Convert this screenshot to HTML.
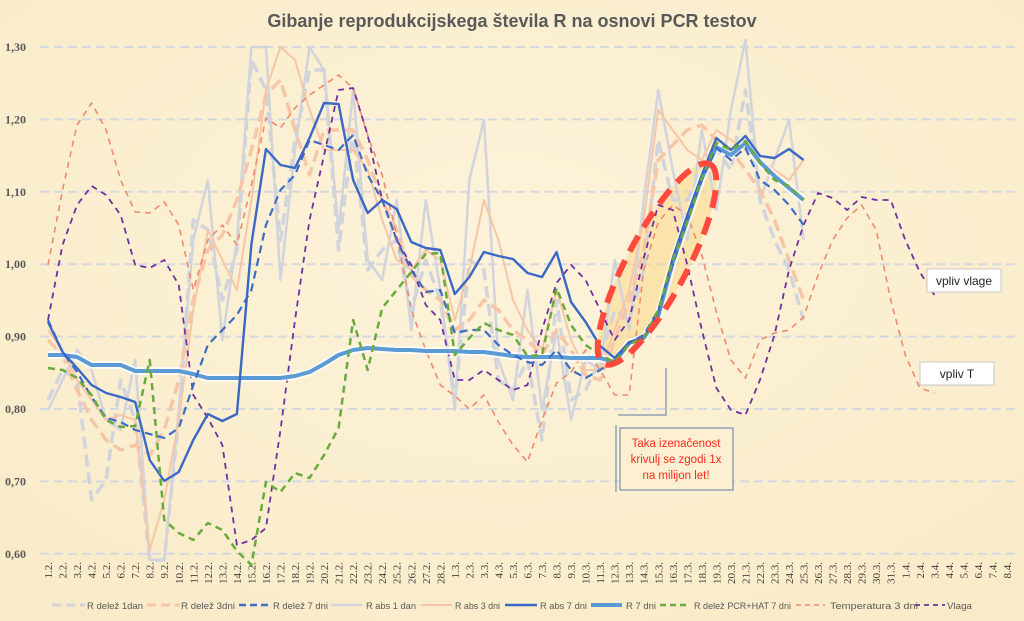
<!DOCTYPE html>
<html><head><meta charset="utf-8">
<style>
html,body{margin:0;padding:0;}
body{width:1024px;height:621px;overflow:hidden;background:#fcefd2;font-family:"Liberation Sans",sans-serif;}
svg{display:block;}
</style></head>
<body>
<svg id="c" width="1024" height="621" xmlns="http://www.w3.org/2000/svg">
<defs>
<radialGradient id="bg" cx="50%" cy="40%" r="75%">
<stop offset="0" stop-color="#fdf3da"/><stop offset="1" stop-color="#f9ebc8"/>
</radialGradient>
</defs>
<rect width="1024" height="621" fill="url(#bg)"/>
<text x="512" y="27" text-anchor="middle" font-family="Liberation Sans, sans-serif" font-weight="bold" font-size="18" fill="#595959">Gibanje reprodukcijskega števila R na osnovi PCR testov</text>
<g id="grid"></g>
<g id="ylab" font-family="Liberation Serif, serif" font-weight="bold" font-size="12" fill="#595959"></g>
<g id="xlab" font-family="Liberation Serif, serif" font-size="11" fill="#404040"></g>
<ellipse cx="657" cy="264" rx="113" ry="30" transform="rotate(-62 657 264)" fill="#f9d98a" fill-opacity="0.55"/>
<g id="series"></g>
<ellipse cx="657" cy="264" rx="113" ry="30" transform="rotate(-62 657 264)" fill="none" stroke="#ff4b3e" stroke-width="6" stroke-dasharray="18 10"/>
<polyline points="618,415 666,415 666,368" fill="none" stroke="#5a7ea8" stroke-width="1"/>
<line x1="616" y1="425" x2="616" y2="492" stroke="#5a7ea8" stroke-width="1"/>
<rect x="620" y="428" width="113" height="62" fill="#fcefd2" stroke="#5a7ea8" stroke-width="1"/>
<text x="676" y="447" text-anchor="middle" font-size="11.5" fill="#ff2a1a" font-family="Liberation Sans, sans-serif">Taka izenačenost</text>
<text x="676" y="463" text-anchor="middle" font-size="11.5" fill="#ff2a1a" font-family="Liberation Sans, sans-serif">krivulj se zgodi 1x</text>
<text x="676" y="479" text-anchor="middle" font-size="11.5" fill="#ff2a1a" font-family="Liberation Sans, sans-serif">na milijon let!</text>
<rect x="927" y="269" width="74" height="23" fill="#fff" stroke="#c8c8c8"/>
<text x="964" y="285" text-anchor="middle" font-size="12" fill="#222">vpliv vlage</text>
<rect x="920" y="362" width="74" height="23" fill="#fff" stroke="#c8c8c8"/>
<text x="957" y="378" text-anchor="middle" font-size="12" fill="#222">vpliv T</text>
<g id="legend" font-family="Liberation Sans, sans-serif" font-size="9.5" fill="#595959"></g>
</svg>
<script>
const NS="http://www.w3.org/2000/svg";
function el(p,t,a,txt){const e=document.createElementNS(NS,t);for(const k in a)e.setAttribute(k,a[k]);if(txt!==undefined)e.textContent=txt;document.getElementById(p).appendChild(e);return e;}
const X0=48,DX=14.53;
const Y=v=>47+(1.30-v)/0.1*72.4;
for(let i=0;i<8;i++){const v=1.3-i*0.1;const y=Y(v);
el('grid','line',{x1:40,x2:1020,y1:y,y2:y,stroke:'#d6d8e0','stroke-width':2,'stroke-dasharray':'9 5'});
el('ylab','text',{x:5,y:y+4},v.toFixed(2).replace('.',','));}
const labs=[];for(let d=1;d<=28;d++)labs.push(d+'.2.');for(let d=1;d<=31;d++)labs.push(d+'.3.');for(let d=1;d<=8;d++)labs.push(d+'.4.');
labs.forEach((l,i)=>{const x=X0+i*DX+4;el('xlab','text',{x:x,y:562,transform:`rotate(-90 ${x} 562)`,'text-anchor':'end'},l);});
function line(ys,color,w,dash,extra){const pts=ys.map((y,i)=>(y==null?null:(X0+i*DX)+','+y)).filter(p=>p).join(' ');
const a={points:pts,fill:'none',stroke:color,'stroke-width':w,'stroke-linejoin':'round'};if(dash)a['stroke-dasharray']=dash;Object.assign(a,extra||{});el('series','polyline',a);}
const rabs1=[410,380,350,370,420,430,360,560,560,410,240,180,340,240,47,47,280,150,47,70,230,90,260,280,200,330,200,290,410,180,120,360,400,290,410,330,420,360,370,260,330,200,90,170,240,130,210,110,40,200,160,120,240];
const rdel1=[400,370,380,500,480,380,420,560,560,420,220,230,300,250,60,90,240,140,70,70,250,130,270,250,240,310,260,300,400,260,270,380,390,360,440,300,400,390,360,310,320,270,140,200,200,170,150,170,90,200,240,270,320];
const rabs3=[330,350,380,400,420,415,420,550,500,420,310,230,260,290,200,90,47,60,110,150,150,150,170,220,260,270,250,260,320,270,200,240,300,330,350,290,340,370,370,330,290,220,110,130,150,160,130,140,150,160,170,180,160];
const rdel3=[340,355,390,420,440,450,445,455,430,380,300,250,235,200,150,95,80,130,175,130,130,130,160,200,230,275,290,300,330,320,300,310,330,340,355,330,350,375,380,340,300,250,160,145,130,125,140,150,170,190,220,260,300];
const rdel7=[320,352,372,397,418,422,430,434,438,428,385,345,330,315,290,225,190,175,140,145,150,135,175,200,240,270,292,290,333,330,330,345,355,362,365,350,370,378,370,360,343,335,310,265,220,180,148,160,148,180,190,205,225];
const rabs7=[322,352,368,385,393,397,402,460,481,472,440,414,421,414,244,149,165,168,138,103,104,180,213,200,209,242,248,250,294,277,252,256,259,273,277,252,302,322,346,358,342,338,312,258,215,175,138,150,136,156,158,149,160];
const r7=[355,355,357,365,365,365,371,371,371,371,374,378,378,378,378,378,378,376,372,364,355,350,348,349,350,350,351,351,351,352,352,354,356,357,357,357,358,358,358,362,343,338,316,262,220,178,147,155,143,162,176,188,200];
const green=[368,370,378,395,420,427,426,360,520,533,540,523,530,551,565,482,492,473,478,455,428,320,370,308,290,272,254,253,355,338,323,330,335,356,355,288,325,345,355,362,344,338,310,260,222,178,143,150,141,163,180,186,200];
const temp=[265,190,125,103,130,180,212,213,202,225,290,240,225,245,185,118,128,108,95,85,75,88,135,175,235,310,350,385,396,409,395,422,445,462,420,383,372,350,370,395,395,270,222,205,215,255,312,360,378,340,333,330,317,275,240,218,205,230,300,355,388,393];
const vlaga=[320,245,205,186,195,215,265,268,260,285,395,418,445,545,540,528,430,320,220,155,90,88,135,200,240,265,305,320,380,380,370,380,390,385,330,283,265,280,310,340,320,258,205,210,265,330,388,410,415,380,335,270,225,193,198,210,197,200,200,240,272,295];
line(rabs1,'#d2d4dc',2.5);
line(rdel1,'#d2d4dc',3.5,'12 6');
line(rabs3,'#f7c6a6',2);
line(rdel3,'#f7c6a6',3.5,'12 6');
line(temp,'#f08a6e',1.6,'6 5');
line(vlaga,'#7030a0',1.8,'6 5');
line(r7,'#ffffff',8,null,{'stroke-opacity':0.7});
line(r7,'#5b9bd5',4);
line(rdel7,'#3d6cc6',2.2,'8 5');
line(rabs7,'#3a68c4',2.4);
line(green,'#6aaa3c',2.5,'7 5');
// legend: [label,color,width,dash,lineStart,lineEnd,textStart,textEnd]
const L=[['R delež 1dan','#d2d4dc',3,'9 5',52,85,87,143],['R delež 3dni','#f7c6a6',3,'9 5',147,180,181,235],['R delež 7 dni','#3d6cc6',2.5,'7 4',239,268,273,328],['R abs 1 dan','#d2d4dc',2.5,null,331,362,366,416],['R abs 3 dni','#f7c6a6',2,null,421,452,455,500],['R abs 7 dni','#3a68c4',2.5,null,505,537,540,587],['R 7 dni','#5b9bd5',4,null,591,622,626,656],['R delež PCR+HAT 7 dni','#6aaa3c',2.5,'6 4',660,688,694,791],['Temperatura 3 dni','#f08a6e',1.6,'5 4',796,825,830,918],['Vlaga','#7030a0',1.8,'5 4',915,945,947,972]];
L.forEach(s=>{const a={x1:s[4],x2:s[5],y1:605,y2:605,stroke:s[1],'stroke-width':s[2]};if(s[3])a['stroke-dasharray']=s[3];el('legend','line',a);el('legend','text',{x:s[6],y:609,textLength:s[7]-s[6],lengthAdjust:'spacingAndGlyphs'},s[0]);});
</script>
</body></html>
